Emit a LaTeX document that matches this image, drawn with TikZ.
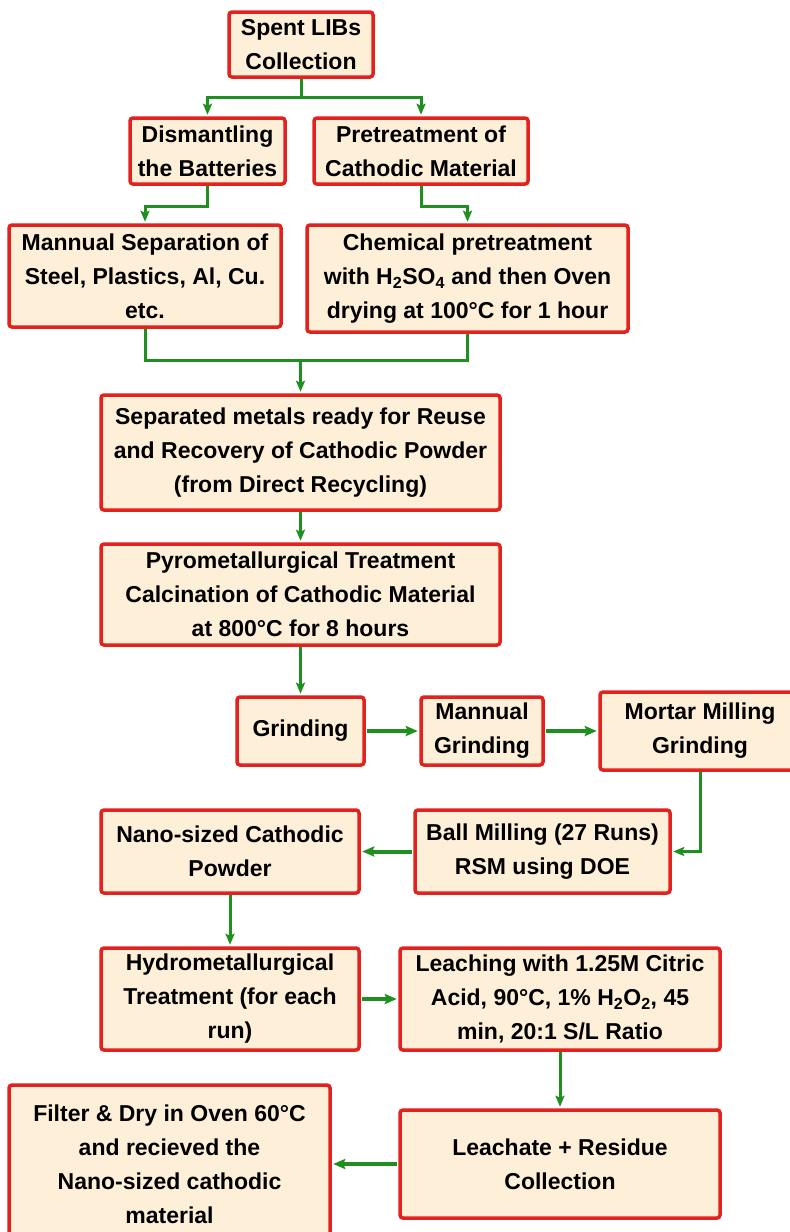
\documentclass[tikz,border=0pt]{standalone}
\usepackage{fontspec}
\setmainfont{Liberation Sans}
\usetikzlibrary{arrows.meta}
\definecolor{boxfill}{HTML}{FEF0D8}
\definecolor{boxline}{HTML}{E3211E}
\definecolor{arrgreen}{HTML}{1F8F1F}
\begin{document}
\begin{tikzpicture}[x=1pt,y=-1pt,
 box/.style={draw=boxline, fill=boxfill, line width=3.5pt, rounded corners=3pt, align=center,
   font=\fontsize{23}{34}\selectfont\bfseries, inner sep=0pt},
 link/.style={draw=arrgreen, line width=3pt},
 arr/.style={link, shorten >=1.5pt, -{Stealth[length=11pt,width=9pt,inset=2pt]}},
 harr/.style={draw=arrgreen, line width=4pt, shorten >=1.5pt, shorten <=1.5pt, -{Stealth[length=12pt,width=10pt,inset=2pt]}}]
\clip (0,0) rectangle (790,1232);
\fill[white] (0,0) rectangle (790,1232);

\node[box, minimum width=144pt, minimum height=65pt] (spent) at (301,44.5) {Spent LIBs\\Collection};
\node[box, minimum width=155pt, minimum height=66pt] (dism) at (207.5,151) {Dismantling\\the Batteries};
\node[box, minimum width=214pt, minimum height=66pt] (pret) at (421,151) {Pretreatment of\\Cathodic Material};
\node[box, minimum width=272pt, minimum height=102pt] (mansep) at (145,276) {Mannual Separation of\\Steel, Plastics, Al, Cu.\\etc.};
\node[box, minimum width=321pt, minimum height=107pt] (chem) at (467.5,278.5) {Chemical pretreatment\\with H\textsubscript{2}SO\textsubscript{4} and then Oven\\drying at 100°C for 1 hour};
\node[box, minimum width=399pt, minimum height=115pt] (sep) at (300.5,452.5) {Separated metals ready for Reuse\\and Recovery of Cathodic Powder\\(from Direct Recycling)};
\node[box, minimum width=399pt, minimum height=101pt] (pyro) at (300.5,594.5) {Pyrometallurgical Treatment\\Calcination of Cathodic Material\\at 800°C for 8 hours};
\node[box, minimum width=127pt, minimum height=68pt] (grind) at (300.5,731) {Grinding};
\node[box, minimum width=122pt, minimum height=68pt] (mgrind) at (482,731) {Mannual\\Grinding};
\node[box, minimum width=200pt, minimum height=78pt] (mortar) at (700,731) {Mortar Milling\\Grinding};
\node[box, minimum width=255pt, minimum height=83pt] (ball) at (542.5,851.5) {Ball Milling (27 Runs)\\RSM using DOE};
\node[box, minimum width=258pt, minimum height=83pt] (nano) at (230,851.5) {Nano-sized Cathodic\\Powder};
\node[box, minimum width=258pt, minimum height=102pt] (hydro) at (230,999) {Hydrometallurgical\\Treatment (for each\\run)};
\node[box, minimum width=320pt, minimum height=102pt] (leach) at (560,999) {Leaching with 1.25M Citric\\Acid, 90°C, 1\% H\textsubscript{2}O\textsubscript{2}, 45\\min, 20:1 S/L Ratio};
\node[box, minimum width=320pt, minimum height=108pt] (leachate) at (560,1164) {Leachate + Residue\\Collection};
\node[box, minimum width=321pt, minimum height=158pt] (filter) at (169.5,1164) {Filter \& Dry in Oven 60°C\\and recieved the\\Nano-sized cathodic\\material};

\coordinate (j1) at (301,97);
\draw[link] (spent.south) -- (j1);
\draw[arr] (j1) -| (dism.north);
\draw[arr] (j1) -| (pret.north);
\draw[arr] (dism.south) -- ++(0,21) -| (mansep.north);
\draw[arr] (pret.south) -- ++(0,21) -| (chem.north);
\coordinate (j2) at (300.5,360);
\draw[link] (mansep.south) |- (j2) -| (chem.south);
\draw[arr] (j2) -- (sep.north);
\draw[arr] (sep.south) -- (pyro.north);
\draw[arr] (pyro.south) -- (grind.north);
\draw[harr] (grind.east) -- (mgrind.west);
\draw[harr] (mgrind.east) -- (mortar.west);
\draw[arr] (mortar.south) |- (ball.east);
\draw[harr] (ball.west) -- (nano.east);
\draw[arr] (nano.south) -- (hydro.north);
\draw[harr] (hydro.east) -- (leach.west);
\draw[arr] (leach.south) -- (leachate.north);
\draw[harr] (leachate.west) -- (filter.east);
\end{tikzpicture}
\end{document}
